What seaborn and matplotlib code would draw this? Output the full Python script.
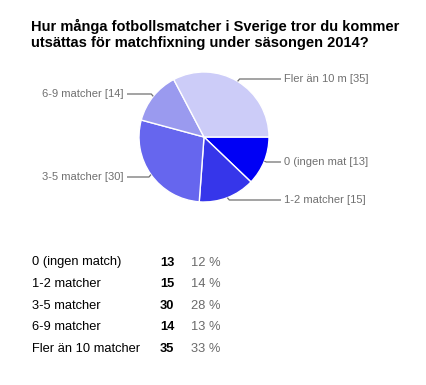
import matplotlib
matplotlib.use("Agg")
import matplotlib.pyplot as plt
import seaborn as sns
import numpy as np

sns.set_theme(style="white")
plt.rcParams['font.family'] = ['Liberation Sans', 'DejaVu Sans']

title_lines = ["Hur många fotbollsmatcher i Sverige tror du kommer",
               "utsättas för matchfixning under säsongen 2014?"]
categories = ["0 (ingen match)", "1-2 matcher", "3-5 matcher", "6-9 matcher", "Fler än 10 matcher"]
pie_labels = ["0 (ingen mat", "1-2 matcher", "3-5 matcher", "6-9 matcher", "Fler än 10 m"]
counts = [13, 15, 30, 14, 35]
percents = [12, 14, 28, 13, 33]
colors = ["#0000f5", "#3636ea", "#6666ee", "#9a9aef", "#ccccf8"]

W, H = 426, 385
fig = plt.figure(figsize=(W / 100, H / 100), dpi=100)
ax = fig.add_axes([0, 0, 1, 1])

cx, cy, r = 204, 137, 65
# pie drawn in a y-down axis: counterclock=True appears clockwise visually
wedges, _ = ax.pie(counts, colors=colors, startangle=0, counterclock=True,
                   center=(cx, cy), radius=r, frame=True,
                   wedgeprops=dict(edgecolor="white", linewidth=1.0))
ax.set_xlim(0, W)
ax.set_ylim(H, 0)
ax.set_aspect("equal")
ax.axis("off")

label_y = {0: 162, 1: 200, 2: 177, 3: 94, 4: 79}
grey = "#707070"
for i, w in enumerate(wedges):
    mid = np.deg2rad((w.theta1 + w.theta2) / 2)
    ex = cx + r * np.cos(mid)
    ey = cy + r * np.sin(mid)
    ly = label_y[i]
    if np.cos(mid) >= 0:
        kx = ex + 2
        tx = 281
        ax.plot([ex, kx, tx], [ey, ly, ly], color=grey, lw=0.9, solid_capstyle="butt")
        ax.text(tx + 3, ly, f"{pie_labels[i]} [{counts[i]}]", ha="left", va="center",
                fontsize=8, color=grey)
    else:
        kx = ex - 2
        tx = 127
        ax.plot([ex, kx, tx], [ey, ly, ly], color=grey, lw=0.9, solid_capstyle="butt")
        ax.text(tx - 3, ly, f"{pie_labels[i]} [{counts[i]}]", ha="right", va="center",
                fontsize=8, color=grey)

for j, line in enumerate(title_lines):
    ax.text(31, 31 + 15.5 * j, line, ha="left", va="baseline", fontsize=10.5,
            fontweight="bold", color="black")

for i, (c, n, p) in enumerate(zip(categories, counts, percents)):
    y = 262.5 + 21.6 * i
    ax.text(32.5, y, c, ha="left", va="center", fontsize=9.3, color="black")
    ax.text(160, y, str(n), ha="left", va="center", fontsize=9.3, fontweight="bold", color="black")
    ax.text(191, y, f"{p} %", ha="left", va="center", fontsize=9.3, color="#6a6a6a")

fig.savefig("out.png", dpi=100, facecolor="white")
